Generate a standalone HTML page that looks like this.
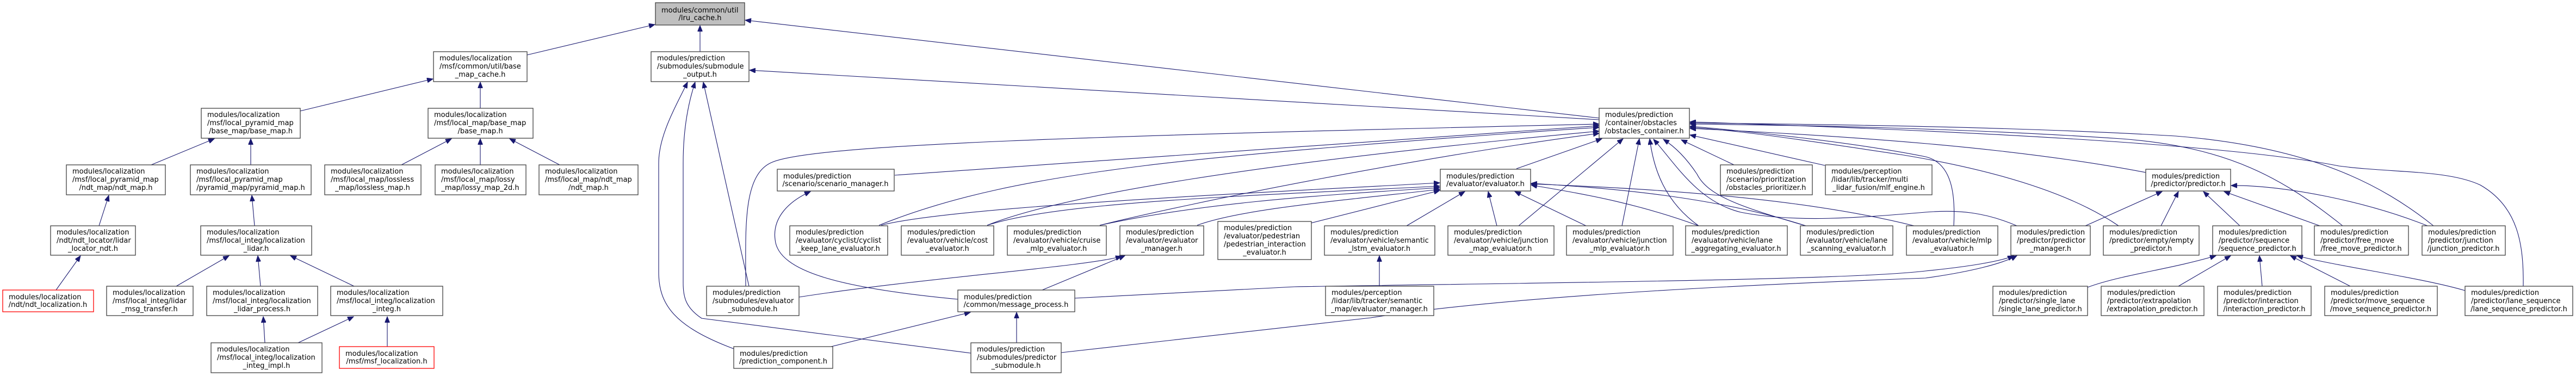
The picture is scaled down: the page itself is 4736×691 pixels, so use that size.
<!DOCTYPE html>
<html><head><meta charset="utf-8"><style>
html,body{margin:0;padding:0;background:#fff;width:4736px;height:691px;overflow:hidden}
svg{display:block}
text{font-family:"DejaVu Sans","Liberation Sans",sans-serif;font-size:13px;fill:#000}
.b{fill:#fff;stroke:#404040;stroke-width:1.3}
.r{fill:#fff;stroke:#ff0000;stroke-width:1.3}
.g{fill:#bfbfbf;stroke:#404040;stroke-width:1.3}
.e{fill:none;stroke:#191970;stroke-width:1.1}
</style></head><body>
<svg width="4736" height="691" viewBox="0 0 4736 691" xmlns="http://www.w3.org/2000/svg">
<defs><marker id="a" markerUnits="userSpaceOnUse" markerWidth="12" markerHeight="9" refX="11" refY="4.5" orient="auto"><path d="M0,0 L11,4.5 L0,9 z" fill="#191970" stroke="#191970"/></marker></defs>
<g marker-end="url(#a)">
<path class="e" d="M969,101 L1204,45"/>
<path class="e" d="M1287,95 L1287,47"/>
<path class="e" d="M2940,217 L1370,37"/>
<path class="e" d="M552,204 L796,145"/>
<path class="e" d="M883,199 L883,151"/>
<path class="e" d="M278,303 L394,255"/>
<path class="e" d="M461,303 L461,255"/>
<path class="e" d="M738,303 L830,255"/>
<path class="e" d="M883,303 L883,255"/>
<path class="e" d="M1029,303 L937,255"/>
<path class="e" d="M182,415 L200,359"/>
<path class="e" d="M103,533 L148,470"/>
<path class="e" d="M468,415 L463,359"/>
<path class="e" d="M324,526 L421,470"/>
<path class="e" d="M479,526 L474,470"/>
<path class="e" d="M651,526 L534,470"/>
<path class="e" d="M487,630 L484,582"/>
<path class="e" d="M548,630 L650,582"/>
<path class="e" d="M712,637 L712,582"/>
<path class="e" d="M2940,220 L1378,129"/>
<path class="e" d="M1377,526 L1293,151"/>
<path class="e" d="M1349,641 C1240,600 1211,560 1211,500 L1211,300 C1211,250 1240,200 1264,151"/>
<path class="e" d="M1785,649 L1290,585 C1260,565 1256,545 1256,520 L1256,300 C1256,240 1265,190 1278,151"/>
<path class="e" d="M1371,526 C1371,420 1365,320 1420,298 C1500,265 2000,250 2940,228"/>
<path class="e" d="M1645,322 L2940,231"/>
<path class="e" d="M1761,550 C1550,530 1430,500 1425,440 C1420,400 1450,370 1490,352"/>
<path class="e" d="M1616,414 C1750,360 1900,330 2100,305 S2700,250 2940,234"/>
<path class="e" d="M1620,414 C1750,380 2300,355 2647,336"/>
<path class="e" d="M1815,414 C1950,360 2300,300 2940,241"/>
<path class="e" d="M1815,414 C1950,370 2300,360 2647,342"/>
<path class="e" d="M2022,414 C2200,370 2600,290 2940,245"/>
<path class="e" d="M2022,414 C2200,375 2400,360 2647,345"/>
<path class="e" d="M2201,414 C2280,385 2450,370 2647,348"/>
<path class="e" d="M2410,410 L2647,350"/>
<path class="e" d="M1916,533 L2068,470"/>
<path class="e" d="M1469,546 C1700,510 2000,490 2062,471"/>
<path class="e" d="M1528,637 L1784,574"/>
<path class="e" d="M1869,630 L1869,574"/>
<path class="e" d="M1951,648 L2520,584 C2800,540 3300,520 3540,511 C3620,500 3680,485 3708,470"/>
<path class="e" d="M1976,548 L2380,527 C2800,520 3400,515 3540,498 C3620,490 3680,480 3702,470"/>
<path class="e" d="M2788,310 L2945,255"/>
<path class="e" d="M2586,415 L2693,352"/>
<path class="e" d="M2536,526 L2536,470"/>
<path class="e" d="M2752,415 L2736,352"/>
<path class="e" d="M2792,415 L2984,255"/>
<path class="e" d="M2916,415 L2785,352"/>
<path class="e" d="M2982,415 L3014,255"/>
<path class="e" d="M3123,415 C3000,370 2900,355 2815,340"/>
<path class="e" d="M3123,415 C3060,370 3040,310 3033,255"/>
<path class="e" d="M3320,415 C3150,360 2950,345 2815,337"/>
<path class="e" d="M3320,415 C3200,380 3140,360 3120,320 C3100,290 3080,270 3058,256"/>
<path class="e" d="M3519,415 C3300,360 3000,345 2815,338"/>
<path class="e" d="M3592,415 C3595,360 3590,300 3540,288 C3400,260 3200,240 3107,232"/>
<path class="e" d="M3188,303 L3091,257"/>
<path class="e" d="M3355,304 L3107,248"/>
<path class="e" d="M3945,317 C3700,270 3400,250 3107,236"/>
<path class="e" d="M3834,415 L3975,352"/>
<path class="e" d="M3708,415 C3650,390 3600,385 3540,390 C3420,400 3300,410 3200,390 C3120,370 3080,300 3040,256"/>
<path class="e" d="M3973,415 L4005,352"/>
<path class="e" d="M3895,415 C3800,350 3650,310 3500,285 C3300,255 3200,240 3107,234"/>
<path class="e" d="M4118,415 L4051,352"/>
<path class="e" d="M4265,415 L4089,352"/>
<path class="e" d="M4463,415 C4350,370 4200,340 4102,341"/>
<path class="e" d="M4307,415 C4200,330 4100,270 3900,255 C3600,235 3300,230 3107,228"/>
<path class="e" d="M4474,415 C4380,340 4250,270 4000,250 C3700,232 3300,228 3107,226"/>
<path class="e" d="M4639,526 C4640,450 4630,380 4560,340 C4500,312 4400,318 4300,305 C4100,265 3600,240 3107,224"/>
<path class="e" d="M3838,528 C3900,505 3990,495 4074,470"/>
<path class="e" d="M4005,526 L4101,470"/>
<path class="e" d="M4159,526 L4154,470"/>
<path class="e" d="M4321,526 L4211,470"/>
<path class="e" d="M4532,534 C4450,510 4300,490 4223,470"/>
</g>
<!-- nodes -->
<g>
<rect class="g" x="1205" y="5" width="164" height="41"/><text x="1216" y="23">modules/common/util</text><text x="1287" y="37" text-anchor="middle">/lru_cache.h</text>

<rect class="b" x="797" y="95" width="172" height="55"/><text x="808" y="111">modules/localization</text><text x="808" y="126">/msf/common/util/base</text><text x="883" y="141" text-anchor="middle">_map_cache.h</text>

<rect class="b" x="1197" y="95" width="180" height="55"/><text x="1208" y="111">modules/prediction</text><text x="1208" y="126">/submodules/submodule</text><text x="1287" y="141" text-anchor="middle">_output.h</text>

<rect class="b" x="370" y="199" width="182" height="55"/><text x="381" y="215">modules/localization</text><text x="381" y="230">/msf/local_pyramid_map</text><text x="461" y="245" text-anchor="middle">/base_map/base_map.h</text>

<rect class="b" x="787" y="199" width="193" height="55"/><text x="798" y="215">modules/localization</text><text x="798" y="230">/msf/local_map/base_map</text><text x="883" y="245" text-anchor="middle">/base_map.h</text>

<rect class="b" x="2940" y="199" width="166" height="55"/><text x="2951" y="215">modules/prediction</text><text x="2951" y="230">/container/obstacles</text><text x="3023" y="245" text-anchor="middle">/obstacles_container.h</text>

<rect class="b" x="122" y="303" width="182" height="55"/><text x="133" y="319">modules/localization</text><text x="133" y="334">/msf/local_pyramid_map</text><text x="213" y="349" text-anchor="middle">/ndt_map/ndt_map.h</text>

<rect class="b" x="350" y="303" width="222" height="55"/><text x="361" y="319">modules/localization</text><text x="361" y="334">/msf/local_pyramid_map</text><text x="461" y="349" text-anchor="middle">/pyramid_map/pyramid_map.h</text>

<rect class="b" x="597" y="303" width="177" height="55"/><text x="608" y="319">modules/localization</text><text x="608" y="334">/msf/local_map/lossless</text><text x="685" y="349" text-anchor="middle">_map/lossless_map.h</text>

<rect class="b" x="800" y="303" width="167" height="55"/><text x="811" y="319">modules/localization</text><text x="811" y="334">/msf/local_map/lossy</text><text x="883" y="349" text-anchor="middle">_map/lossy_map_2d.h</text>

<rect class="b" x="991" y="303" width="182" height="55"/><text x="1002" y="319">modules/localization</text><text x="1002" y="334">/msf/local_map/ndt_map</text><text x="1082" y="349" text-anchor="middle">/ndt_map.h</text>

<rect class="b" x="1429" y="311" width="215" height="40"/><text x="1440" y="328">modules/prediction</text><text x="1536" y="342" text-anchor="middle">/scenario/scenario_manager.h</text>

<rect class="b" x="2648" y="311" width="166" height="40"/><text x="2659" y="328">modules/prediction</text><text x="2731" y="342" text-anchor="middle">/evaluator/evaluator.h</text>

<rect class="b" x="3163" y="303" width="169" height="55"/><text x="3174" y="319">modules/prediction</text><text x="3174" y="334">/scenario/prioritization</text><text x="3247" y="349" text-anchor="middle">/obstacles_prioritizer.h</text>

<rect class="b" x="3356" y="303" width="196" height="55"/><text x="3367" y="319">modules/perception</text><text x="3367" y="334">/lidar/lib/tracker/multi</text><text x="3454" y="349" text-anchor="middle">_lidar_fusion/mlf_engine.h</text>

<rect class="b" x="3945" y="311" width="156" height="40"/><text x="3956" y="328">modules/prediction</text><text x="4023" y="342" text-anchor="middle">/predictor/predictor.h</text>

<rect class="b" x="93" y="415" width="156" height="54"/><text x="104" y="431">modules/localization</text><text x="104" y="446">/ndt/ndt_locator/lidar</text><text x="171" y="461" text-anchor="middle">_locator_ndt.h</text>

<rect class="b" x="369" y="415" width="204" height="54"/><text x="380" y="431">modules/localization</text><text x="380" y="446">/msf/local_integ/localization</text><text x="471" y="461" text-anchor="middle">_lidar.h</text>

<rect class="b" x="1452" y="415" width="180" height="54"/><text x="1463" y="431">modules/prediction</text><text x="1463" y="446">/evaluator/cyclist/cyclist</text><text x="1542" y="461" text-anchor="middle">_keep_lane_evaluator.h</text>

<rect class="b" x="1657" y="415" width="170" height="54"/><text x="1668" y="431">modules/prediction</text><text x="1668" y="446">/evaluator/vehicle/cost</text><text x="1742" y="461" text-anchor="middle">_evaluator.h</text>

<rect class="b" x="1852" y="415" width="182" height="54"/><text x="1863" y="431">modules/prediction</text><text x="1863" y="446">/evaluator/vehicle/cruise</text><text x="1943" y="461" text-anchor="middle">_mlp_evaluator.h</text>

<rect class="b" x="2059" y="415" width="154" height="54"/><text x="2070" y="431">modules/prediction</text><text x="2070" y="446">/evaluator/evaluator</text><text x="2136" y="461" text-anchor="middle">_manager.h</text>

<rect class="b" x="2239" y="407" width="172" height="70"/><text x="2250" y="423">modules/prediction</text><text x="2250" y="438">/evaluator/pedestrian</text><text x="2250" y="453">/pedestrian_interaction</text><text x="2325" y="468" text-anchor="middle">_evaluator.h</text>

<rect class="b" x="2435" y="415" width="203" height="54"/><text x="2446" y="431">modules/prediction</text><text x="2446" y="446">/evaluator/vehicle/semantic</text><text x="2536" y="461" text-anchor="middle">_lstm_evaluator.h</text>

<rect class="b" x="2662" y="415" width="195" height="54"/><text x="2673" y="431">modules/prediction</text><text x="2673" y="446">/evaluator/vehicle/junction</text><text x="2759" y="461" text-anchor="middle">_map_evaluator.h</text>

<rect class="b" x="2880" y="415" width="196" height="54"/><text x="2891" y="431">modules/prediction</text><text x="2891" y="446">/evaluator/vehicle/junction</text><text x="2978" y="461" text-anchor="middle">_mlp_evaluator.h</text>

<rect class="b" x="3099" y="415" width="187" height="54"/><text x="3110" y="431">modules/prediction</text><text x="3110" y="446">/evaluator/vehicle/lane</text><text x="3192" y="461" text-anchor="middle">_aggregating_evaluator.h</text>

<rect class="b" x="3310" y="415" width="170" height="54"/><text x="3321" y="431">modules/prediction</text><text x="3321" y="446">/evaluator/vehicle/lane</text><text x="3395" y="461" text-anchor="middle">_scanning_evaluator.h</text>

<rect class="b" x="3505" y="415" width="168" height="54"/><text x="3516" y="431">modules/prediction</text><text x="3516" y="446">/evaluator/vehicle/mlp</text><text x="3589" y="461" text-anchor="middle">_evaluator.h</text>

<rect class="b" x="3697" y="415" width="146" height="54"/><text x="3708" y="431">modules/prediction</text><text x="3708" y="446">/predictor/predictor</text><text x="3770" y="461" text-anchor="middle">_manager.h</text>

<rect class="b" x="3867" y="415" width="176" height="54"/><text x="3878" y="431">modules/prediction</text><text x="3878" y="446">/predictor/empty/empty</text><text x="3955" y="461" text-anchor="middle">_predictor.h</text>

<rect class="b" x="4068" y="415" width="164" height="54"/><text x="4079" y="431">modules/prediction</text><text x="4079" y="446">/predictor/sequence</text><text x="4150" y="461" text-anchor="middle">/sequence_predictor.h</text>

<rect class="b" x="4255" y="415" width="173" height="54"/><text x="4266" y="431">modules/prediction</text><text x="4266" y="446">/predictor/free_move</text><text x="4341" y="461" text-anchor="middle">/free_move_predictor.h</text>

<rect class="b" x="4453" y="415" width="153" height="54"/><text x="4464" y="431">modules/prediction</text><text x="4464" y="446">/predictor/junction</text><text x="4529" y="461" text-anchor="middle">/junction_predictor.h</text>

<rect class="r" x="5" y="533" width="167" height="40"/><text x="16" y="550">modules/localization</text><text x="88" y="564" text-anchor="middle">/ndt/ndt_localization.h</text>

<rect class="b" x="196" y="526" width="159" height="54"/><text x="207" y="542">modules/localization</text><text x="207" y="557">/msf/local_integ/lidar</text><text x="275" y="572" text-anchor="middle">_msg_transfer.h</text>

<rect class="b" x="380" y="526" width="204" height="54"/><text x="391" y="542">modules/localization</text><text x="391" y="557">/msf/local_integ/localization</text><text x="482" y="572" text-anchor="middle">_lidar_process.h</text>

<rect class="b" x="608" y="526" width="206" height="54"/><text x="619" y="542">modules/localization</text><text x="619" y="557">/msf/local_integ/localization</text><text x="711" y="572" text-anchor="middle">_integ.h</text>

<rect class="b" x="1299" y="526" width="170" height="54"/><text x="1310" y="542">modules/prediction</text><text x="1310" y="557">/submodules/evaluator</text><text x="1384" y="572" text-anchor="middle">_submodule.h</text>

<rect class="b" x="1761" y="533" width="215" height="40"/><text x="1772" y="550">modules/prediction</text><text x="1868" y="564" text-anchor="middle">/common/message_process.h</text>

<rect class="b" x="2437" y="526" width="199" height="54"/><text x="2448" y="542">modules/perception</text><text x="2448" y="557">/lidar/lib/tracker/semantic</text><text x="2536" y="572" text-anchor="middle">_map/evaluator_manager.h</text>

<rect class="b" x="3664" y="526" width="174" height="54"/><text x="3675" y="542">modules/prediction</text><text x="3675" y="557">/predictor/single_lane</text><text x="3751" y="572" text-anchor="middle">/single_lane_predictor.h</text>

<rect class="b" x="3863" y="526" width="189" height="54"/><text x="3874" y="542">modules/prediction</text><text x="3874" y="557">/predictor/extrapolation</text><text x="3957" y="572" text-anchor="middle">/extrapolation_predictor.h</text>

<rect class="b" x="4077" y="526" width="172" height="54"/><text x="4088" y="542">modules/prediction</text><text x="4088" y="557">/predictor/interaction</text><text x="4163" y="572" text-anchor="middle">/interaction_predictor.h</text>

<rect class="b" x="4274" y="526" width="207" height="54"/><text x="4285" y="542">modules/prediction</text><text x="4285" y="557">/predictor/move_sequence</text><text x="4377" y="572" text-anchor="middle">/move_sequence_predictor.h</text>

<rect class="b" x="4532" y="526" width="198" height="54"/><text x="4543" y="542">modules/prediction</text><text x="4543" y="557">/predictor/lane_sequence</text><text x="4631" y="572" text-anchor="middle">/lane_sequence_predictor.h</text>

<rect class="b" x="388" y="630" width="204" height="55"/><text x="399" y="646">modules/localization</text><text x="399" y="661">/msf/local_integ/localization</text><text x="490" y="676" text-anchor="middle">_integ_impl.h</text>

<rect class="r" x="624" y="637" width="174" height="40"/><text x="635" y="654">modules/localization</text><text x="711" y="668" text-anchor="middle">/msf/msf_localization.h</text>

<rect class="b" x="1349" y="637" width="182" height="40"/><text x="1360" y="654">modules/prediction</text><text x="1440" y="668" text-anchor="middle">/prediction_component.h</text>

<rect class="b" x="1785" y="630" width="166" height="55"/><text x="1796" y="646">modules/prediction</text><text x="1796" y="661">/submodules/predictor</text><text x="1868" y="676" text-anchor="middle">_submodule.h</text>
</g>
</svg>
</body></html>
